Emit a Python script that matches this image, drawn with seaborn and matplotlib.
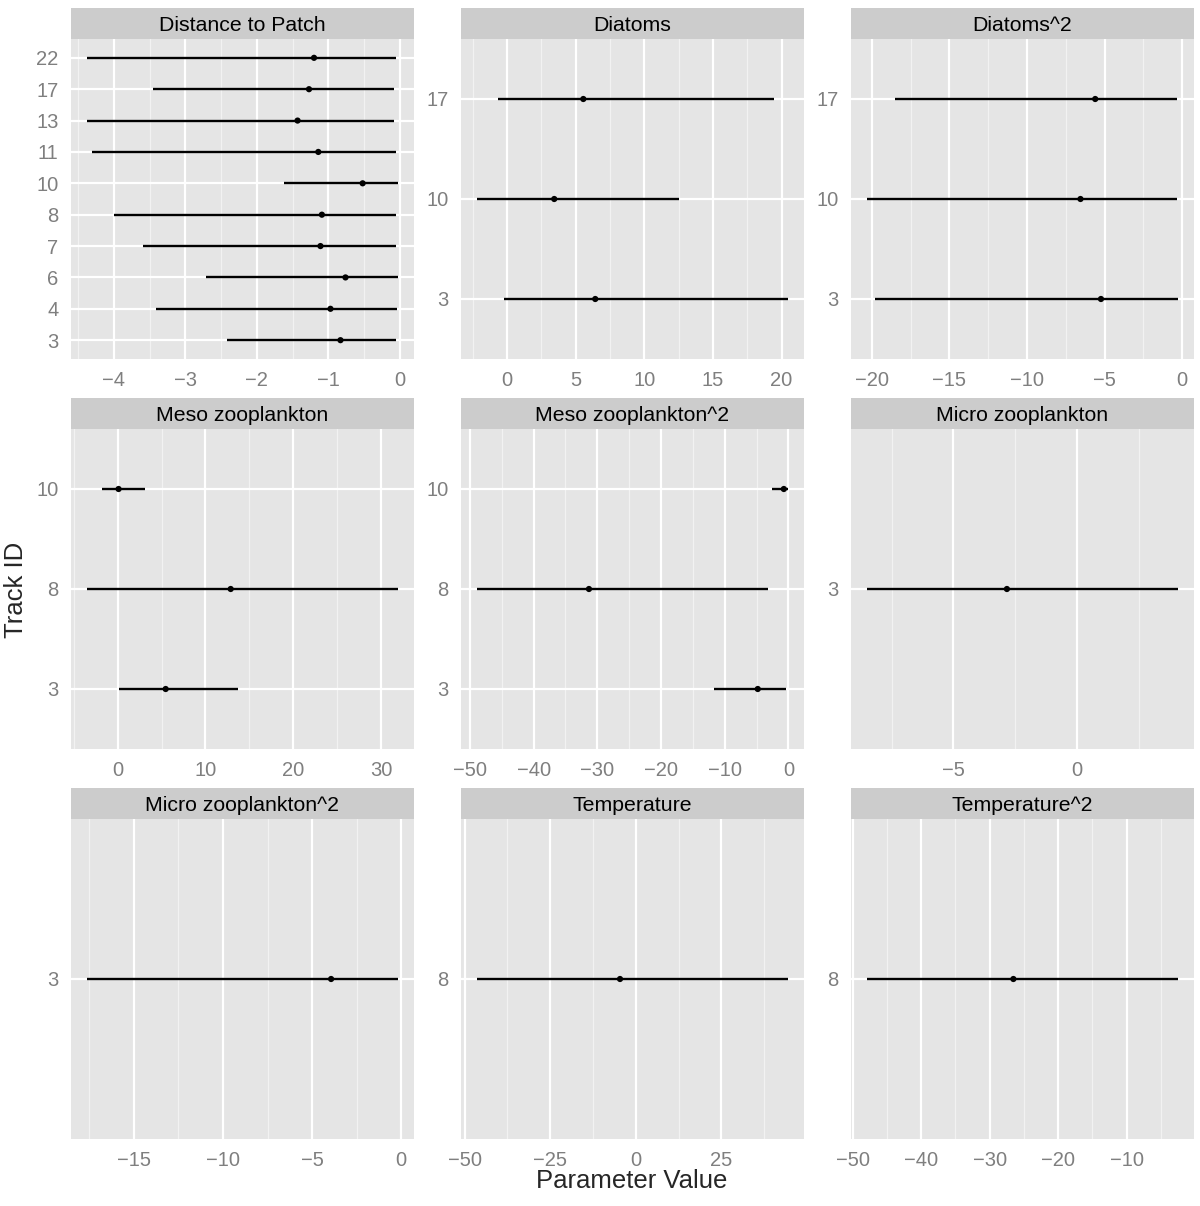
import numpy as np
import pandas as pd
import matplotlib
matplotlib.use("Agg")
import matplotlib.pyplot as plt
import seaborn as sns

# ==========================================
# DATA
# ==========================================
panels = ['Distance to Patch', 'Diatoms', 'Diatoms^2',
          'Meso zooplankton', 'Meso zooplankton^2', 'Micro zooplankton',
          'Micro zooplankton^2', 'Temperature', 'Temperature^2']

term = (['Distance to Patch'] * 10 + ['Diatoms'] * 3 + ['Diatoms^2'] * 3
        + ['Meso zooplankton'] * 3 + ['Meso zooplankton^2'] * 3
        + ['Micro zooplankton', 'Micro zooplankton^2', 'Temperature', 'Temperature^2'])
track = ([22, 17, 13, 11, 10, 8, 7, 6, 4, 3] + [17, 10, 3] + [17, 10, 3]
         + [10, 8, 3] + [10, 8, 3] + [3, 3, 8, 8])
estimate = ([-1.20, -1.27, -1.43, -1.14, -0.52, -1.09, -1.11, -0.76, -0.97, -0.83]
            + [5.55, 3.43, 6.42] + [-5.60, -6.55, -5.23]
            + [0.11, 12.87, 5.47] + [-0.72, -31.31, -4.81]
            + [-2.84, -3.93, -4.6, -26.53])
lower = ([-4.38, -3.45, -4.38, -4.31, -1.62, -3.99, -3.59, -2.71, -3.41, -2.42]
         + [-0.70, -2.23, -0.24] + [-18.47, -20.33, -19.77]
         + [-1.82, -3.53, 0.11] + [-2.51, -48.95, -11.62]
         + [-8.51, -17.66, -46.5, -47.95])
upper = ([-0.06, -0.08, -0.08, -0.05, -0.02, -0.05, -0.06, -0.03, -0.04, -0.05]
         + [19.47, 12.55, 20.50] + [-0.30, -0.34, -0.24]
         + [3.11, 31.96, 13.74] + [0.0, -3.24, -0.42]
         + [4.09, -0.15, 44.6, -2.45])

x_breaks = {
    'Distance to Patch': [-4, -3, -2, -1, 0],
    'Diatoms': [0, 5, 10, 15, 20],
    'Diatoms^2': [-20, -15, -10, -5, 0],
    'Meso zooplankton': [0, 10, 20, 30],
    'Meso zooplankton^2': [-50, -40, -30, -20, -10, 0],
    'Micro zooplankton': [-5, 0],
    'Micro zooplankton^2': [-15, -10, -5, 0],
    'Temperature': [-50, -25, 0, 25],
    'Temperature^2': [-50, -40, -30, -20, -10],
}

df = pd.DataFrame({'term': term, 'track': track, 'estimate': estimate,
                   'lower': lower, 'upper': upper})

# ==========================================
# STYLE (ggplot2 grey theme look)
# ==========================================
sns.set_theme(style='darkgrid', rc={'axes.facecolor': '#E5E5E5'})
plt.rcParams['font.family'] = ['Liberation Sans', 'DejaVu Sans']
plt.rcParams['axes.unicode_minus'] = True

TICK_GREY = '#7F7F7F'
W, H = 1200, 1206
fig = plt.figure(figsize=(W / 100, H / 100), dpi=100)

col_x = [71, 461, 851]
strip_top = [8, 398, 788]
panel_w, strip_h, panel_h = 343, 31, 320


def frac(x, y, w, h):
    return [x / W, 1 - (y + h) / H, w / W, h / H]


for i, name in enumerate(panels):
    r, c = divmod(i, 3)
    sub = df[df['term'] == name].sort_values('track').reset_index(drop=True)
    sub['pos'] = np.arange(len(sub))

    ax = fig.add_axes(frac(col_x[c], strip_top[r] + strip_h, panel_w, panel_h))
    ax.set_facecolor('#E5E5E5')

    # x limits like ggplot: data range + 5%
    lo, hi = sub['lower'].min(), sub['upper'].max()
    pad = (hi - lo) * 0.05
    xmin, xmax = lo - pad, hi + pad

    br = x_breaks[name]
    step = br[1] - br[0]
    minor = [b + step / 2 for b in [br[0] - step] + br]
    minor = [m for m in minor if xmin < m < xmax]

    for m in minor:
        ax.axvline(m, color='#F2F2F2', lw=0.9, zorder=0)
    for b in br:
        ax.axvline(b, color='white', lw=1.6, zorder=0)
    for p in sub['pos']:
        ax.axhline(p, color='white', lw=1.6, zorder=0)
    ax.grid(False)

    ax.hlines(sub['pos'], sub['lower'], sub['upper'], color='black', lw=1.7, zorder=2)
    sns.scatterplot(data=sub, x='estimate', y='pos', ax=ax, color='black',
                    s=20, edgecolor='none', zorder=3, legend=False)

    ax.set_xlim(xmin, xmax)
    ax.set_ylim(-0.6, len(sub) - 1 + 0.6)
    ax.set_xticks(br)
    ax.set_xticklabels([f'{b:g}'.replace('-', '\u2212') for b in br])
    ax.set_yticks(sub['pos'])
    ax.set_yticklabels([str(t) for t in sub['track']])
    ax.tick_params(axis='both', colors=TICK_GREY, labelsize=14.5, length=6,
                   width=1.2, pad=3, labelcolor=TICK_GREY)
    ax.set_xlabel('')
    ax.set_ylabel('')
    for s in ax.spines.values():
        s.set_visible(False)

    # facet strip
    sax = fig.add_axes(frac(col_x[c], strip_top[r], panel_w, strip_h))
    sax.set_facecolor('#CCCCCC')
    sax.set_xticks([])
    sax.set_yticks([])
    sax.grid(False)
    for s in sax.spines.values():
        s.set_visible(False)
    sax.text(0.5, 0.45, name, ha='center', va='center', fontsize=15.3, color='black',
             transform=sax.transAxes)

fig.text(632 / W, 1 - 1181 / H, 'Parameter Value', ha='center', va='center', fontsize=18.5)
fig.text(16 / W, 1 - 590 / H, 'Track ID', ha='center', va='center', fontsize=18.5,
         rotation=90)

fig.savefig('out.png', dpi=100, facecolor='white')
plt.close(fig)
